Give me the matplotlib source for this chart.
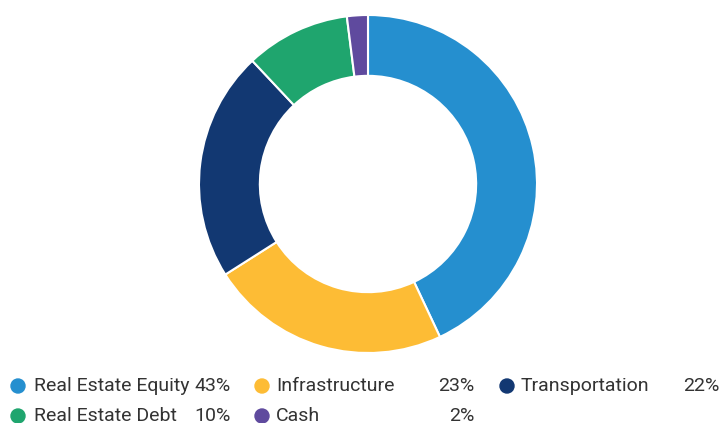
import matplotlib
matplotlib.use('Agg')
import matplotlib.pyplot as plt

labels = ['Real Estate Equity', 'Infrastructure', 'Transportation', 'Real Estate Debt', 'Cash']
values = [43, 23, 22, 10, 2]
colors = ['#258FCF', '#FDBC35', '#123872', '#1FA56E', '#5F4A9E']

plt.rcParams['font.family'] = ['Roboto', 'DejaVu Sans']

W, H = 720, 423
fig = plt.figure(figsize=(W / 100, H / 100), dpi=100)

# donut, centre (368,184) px, radius 169 px
cx, cy, r = 368, 184, 169
ax = fig.add_axes([(cx - r) / W, 1 - (cy + r) / H, 2 * r / W, 2 * r / H])
ax.pie(values, colors=colors, startangle=90, counterclock=False,
       wedgeprops=dict(width=0.36, edgecolor='white', linewidth=1.5))
ax.set_xlim(-1, 1)
ax.set_ylim(-1, 1)
ax.set_aspect('equal')
ax.axis('off')

# legend in three columns
col_dot = [18, 262, 507]
col_txt = [34, 276, 521]
col_pct = [231, 474, 719]
row_y = [386, 416]
for i, (lab, v, c) in enumerate(zip(labels, values, colors)):
    row, col = divmod(i, 3)
    y = 1 - row_y[row] / H
    fig.patches.append(matplotlib.patches.Ellipse((col_dot[col] / W, y), 14 / W, 14 / H,
                                                  transform=fig.transFigure, color=c))
    fig.text(col_txt[col] / W, y, lab, ha='left', va='center', fontsize=14, color='#333333')
    fig.text(col_pct[col] / W, y, f'{v}%', ha='right', va='center', fontsize=14, color='#333333')

fig.savefig('out.png', dpi=100)
